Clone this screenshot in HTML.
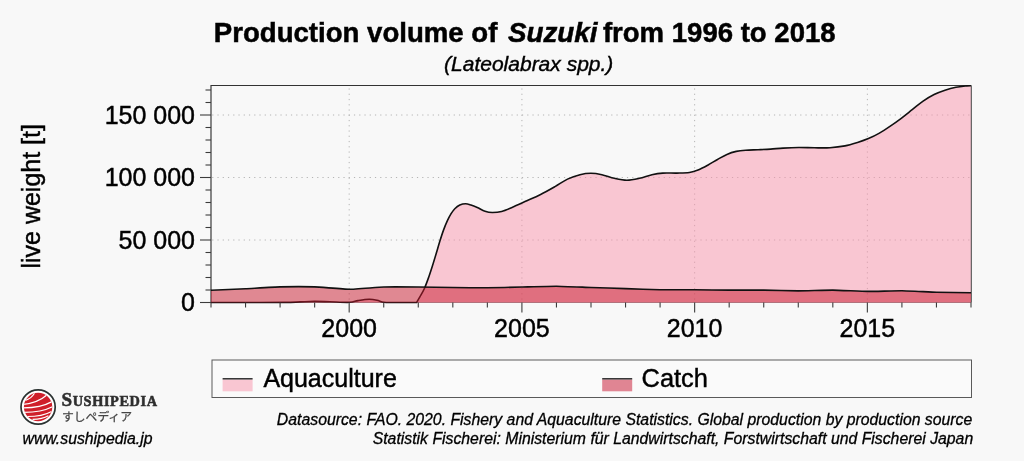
<!DOCTYPE html>
<html lang="en"><head><meta charset="utf-8"><title>Production volume of Suzuki from 1996 to 2018</title>
<style>
html,body{margin:0;padding:0;background:#f8f8f8;}
body{width:1024px;height:461px;overflow:hidden;font-family:"Liberation Sans","Noto Sans CJK JP",sans-serif;}
svg{display:block}
svg text{font-family:"Liberation Sans","Noto Sans CJK JP",sans-serif;fill:#000}
.ax text{font-size:25px}
.it{font-style:italic}
.tt text{stroke:#000;stroke-width:.5px}
.ax text,.lg{stroke:#000;stroke-width:.45px}
.sm{stroke:#000;stroke-width:.3px}
</style></head><body>
<svg width="1024" height="461" viewBox="0 0 1024 461">
<rect width="1024" height="461" fill="#f8f8f8"/>
<defs><clipPath id="disc"><circle cx="38.1" cy="407" r="14.2"/></clipPath></defs>
<!-- title -->
<g font-weight="bold" class="tt"><text x="213.8" y="42" font-size="27.6">Production volume of</text>
<text x="507.9" y="42" font-size="27.8" font-style="italic">Suzuki</text>
<text x="602.9" y="42" font-size="27.55">from 1996 to 2018</text></g>
<text class="it sm" x="528.7" y="71.4" font-size="21" style="stroke-width:.4px" text-anchor="middle">(Lateolabrax spp.)</text>
<!-- frame -->
<path d="M211,302.5V85.5H971.3" fill="none" stroke="#333" stroke-width="1.15"/><line x1="211" x2="971.3" y1="302.5" y2="302.5" stroke="#909090" stroke-width="1"/>
<g stroke="#b4b4b4" stroke-width="1" stroke-dasharray="1.2 4.05"><line x1="349.18" x2="349.18" y1="88.45" y2="302"/><line x1="521.91" x2="521.91" y1="88.45" y2="302"/><line x1="694.64" x2="694.64" y1="88.45" y2="302"/><line x1="867.36" x2="867.36" y1="88.45" y2="302"/><line x1="212.2" x2="971" y1="240.00" y2="240.00"/><line x1="212.2" x2="971" y1="177.50" y2="177.50"/><line x1="212.2" x2="971" y1="115.00" y2="115.00"/></g>
<!-- areas -->
<path d="M211.00,302.50C217.50,302.50 237.67,302.52 250.00,302.50C262.33,302.48 276.67,302.50 285.00,302.40C293.33,302.30 295.07,302.07 300.00,301.90C304.93,301.73 309.60,301.42 314.60,301.40C319.60,301.38 324.20,301.65 330.00,301.80C335.80,301.95 344.73,302.50 349.40,302.30C354.07,302.10 354.73,301.10 358.00,300.60C361.27,300.10 365.83,299.37 369.00,299.30C372.17,299.23 374.50,299.70 377.00,300.20C379.50,300.70 381.00,301.92 384.00,302.30C387.00,302.68 390.67,302.47 395.00,302.50C399.33,302.53 406.42,302.50 410.00,302.50C413.58,302.50 415.42,302.50 416.50,302.50C417.08,301.53 418.68,299.03 420.00,296.70C421.32,294.37 422.95,291.75 424.40,288.50C425.85,285.25 427.37,280.95 428.70,277.20C430.03,273.45 431.15,269.93 432.40,266.00C433.65,262.07 434.95,257.75 436.20,253.60C437.45,249.45 438.67,245.05 439.90,241.10C441.13,237.15 442.35,233.30 443.60,229.90C444.85,226.50 446.15,223.40 447.40,220.70C448.65,218.00 449.87,215.70 451.10,213.70C452.33,211.70 453.35,210.15 454.80,208.70C456.25,207.25 458.00,205.83 459.80,205.00C461.60,204.17 463.73,203.70 465.60,203.70C467.47,203.70 469.05,204.37 471.00,205.00C472.95,205.63 474.97,206.47 477.30,207.50C479.63,208.53 482.52,210.37 485.00,211.20C487.48,212.03 489.43,212.47 492.20,212.50C494.97,212.53 498.22,212.28 501.60,211.40C504.98,210.52 508.60,208.83 512.50,207.20C516.40,205.57 520.32,203.72 525.00,201.60C529.68,199.48 535.60,197.00 540.60,194.50C545.60,192.00 550.52,189.17 555.00,186.60C559.48,184.03 563.33,181.08 567.50,179.10C571.67,177.12 576.10,175.67 580.00,174.70C583.90,173.73 587.25,173.30 590.90,173.30C594.55,173.30 597.98,173.87 601.90,174.70C605.82,175.53 610.23,177.38 614.40,178.30C618.57,179.22 622.73,180.20 626.90,180.20C631.07,180.20 635.23,179.22 639.40,178.30C643.57,177.38 648.00,175.57 651.90,174.70C655.80,173.83 658.63,173.37 662.80,173.10C666.97,172.83 672.47,173.20 676.90,173.10C681.33,173.00 685.76,173.07 689.40,172.50C693.04,171.93 695.63,170.95 698.75,169.70C701.87,168.45 704.98,166.70 708.10,165.00C711.23,163.30 714.37,161.27 717.50,159.50C720.63,157.73 723.77,155.75 726.90,154.40C730.02,153.05 733.13,152.10 736.25,151.40C739.37,150.70 741.96,150.48 745.60,150.20C749.24,149.92 753.93,149.88 758.10,149.70C762.27,149.52 766.43,149.37 770.60,149.10C774.77,148.83 778.41,148.37 783.10,148.10C787.79,147.83 793.53,147.55 798.75,147.50C803.97,147.45 809.19,147.77 814.40,147.80C819.61,147.83 824.90,148.02 830.00,147.70C835.10,147.38 840.42,146.77 845.00,145.90C849.58,145.03 853.60,143.72 857.50,142.50C861.40,141.28 864.75,140.17 868.40,138.60C872.05,137.03 875.75,135.18 879.40,133.10C883.05,131.02 886.66,128.57 890.30,126.10C893.94,123.63 897.60,121.03 901.25,118.30C904.90,115.57 908.56,112.57 912.20,109.70C915.84,106.83 919.45,103.63 923.10,101.10C926.75,98.57 930.45,96.32 934.10,94.50C937.75,92.68 941.37,91.40 945.00,90.20C948.63,89.00 952.25,88.02 955.90,87.30C959.55,86.58 964.38,86.17 966.90,85.90C969.42,85.63 970.32,85.73 971.00,85.70L971,302.5L211,302.5Z" fill="#fa94ac" fill-opacity="0.5"/>
<path d="M211.00,302.50C217.50,302.50 237.67,302.52 250.00,302.50C262.33,302.48 276.67,302.50 285.00,302.40C293.33,302.30 295.07,302.07 300.00,301.90C304.93,301.73 309.60,301.42 314.60,301.40C319.60,301.38 324.20,301.65 330.00,301.80C335.80,301.95 344.73,302.50 349.40,302.30C354.07,302.10 354.73,301.10 358.00,300.60C361.27,300.10 365.83,299.37 369.00,299.30C372.17,299.23 374.50,299.70 377.00,300.20C379.50,300.70 381.00,301.92 384.00,302.30C387.00,302.68 390.67,302.47 395.00,302.50C399.33,302.53 406.42,302.50 410.00,302.50C413.58,302.50 415.42,302.50 416.50,302.50C417.08,301.53 418.68,299.03 420.00,296.70C421.32,294.37 422.95,291.75 424.40,288.50C425.85,285.25 427.37,280.95 428.70,277.20C430.03,273.45 431.15,269.93 432.40,266.00C433.65,262.07 434.95,257.75 436.20,253.60C437.45,249.45 438.67,245.05 439.90,241.10C441.13,237.15 442.35,233.30 443.60,229.90C444.85,226.50 446.15,223.40 447.40,220.70C448.65,218.00 449.87,215.70 451.10,213.70C452.33,211.70 453.35,210.15 454.80,208.70C456.25,207.25 458.00,205.83 459.80,205.00C461.60,204.17 463.73,203.70 465.60,203.70C467.47,203.70 469.05,204.37 471.00,205.00C472.95,205.63 474.97,206.47 477.30,207.50C479.63,208.53 482.52,210.37 485.00,211.20C487.48,212.03 489.43,212.47 492.20,212.50C494.97,212.53 498.22,212.28 501.60,211.40C504.98,210.52 508.60,208.83 512.50,207.20C516.40,205.57 520.32,203.72 525.00,201.60C529.68,199.48 535.60,197.00 540.60,194.50C545.60,192.00 550.52,189.17 555.00,186.60C559.48,184.03 563.33,181.08 567.50,179.10C571.67,177.12 576.10,175.67 580.00,174.70C583.90,173.73 587.25,173.30 590.90,173.30C594.55,173.30 597.98,173.87 601.90,174.70C605.82,175.53 610.23,177.38 614.40,178.30C618.57,179.22 622.73,180.20 626.90,180.20C631.07,180.20 635.23,179.22 639.40,178.30C643.57,177.38 648.00,175.57 651.90,174.70C655.80,173.83 658.63,173.37 662.80,173.10C666.97,172.83 672.47,173.20 676.90,173.10C681.33,173.00 685.76,173.07 689.40,172.50C693.04,171.93 695.63,170.95 698.75,169.70C701.87,168.45 704.98,166.70 708.10,165.00C711.23,163.30 714.37,161.27 717.50,159.50C720.63,157.73 723.77,155.75 726.90,154.40C730.02,153.05 733.13,152.10 736.25,151.40C739.37,150.70 741.96,150.48 745.60,150.20C749.24,149.92 753.93,149.88 758.10,149.70C762.27,149.52 766.43,149.37 770.60,149.10C774.77,148.83 778.41,148.37 783.10,148.10C787.79,147.83 793.53,147.55 798.75,147.50C803.97,147.45 809.19,147.77 814.40,147.80C819.61,147.83 824.90,148.02 830.00,147.70C835.10,147.38 840.42,146.77 845.00,145.90C849.58,145.03 853.60,143.72 857.50,142.50C861.40,141.28 864.75,140.17 868.40,138.60C872.05,137.03 875.75,135.18 879.40,133.10C883.05,131.02 886.66,128.57 890.30,126.10C893.94,123.63 897.60,121.03 901.25,118.30C904.90,115.57 908.56,112.57 912.20,109.70C915.84,106.83 919.45,103.63 923.10,101.10C926.75,98.57 930.45,96.32 934.10,94.50C937.75,92.68 941.37,91.40 945.00,90.20C948.63,89.00 952.25,88.02 955.90,87.30C959.55,86.58 964.38,86.17 966.90,85.90C969.42,85.63 970.32,85.73 971.00,85.70" fill="none" stroke="#111" stroke-width="1.6" stroke-linejoin="round"/>
<line x1="971.3" x2="971.3" y1="85.5" y2="302.5" stroke="#444" stroke-width="1"/>
<path d="M211.00,290.30C213.30,290.20 240.94,288.98 245.55,288.75C250.15,288.52 275.48,287.02 280.09,286.90C284.70,286.78 310.03,286.74 314.64,286.90C319.24,287.06 344.58,289.29 349.18,289.30C353.79,289.31 379.12,287.15 383.73,287.00C388.33,286.85 413.67,286.97 418.27,287.00C422.88,287.03 448.21,287.45 452.82,287.50C457.42,287.55 482.76,287.83 487.36,287.80C491.97,287.77 517.30,287.11 521.91,287.00C526.52,286.89 551.85,286.17 556.45,286.20C561.06,286.23 586.39,287.34 591.00,287.50C595.61,287.66 620.94,288.45 625.55,288.60C630.15,288.75 655.48,289.72 660.09,289.80C664.70,289.88 690.03,289.78 694.64,289.80C699.24,289.82 724.58,290.08 729.18,290.10C733.79,290.12 759.12,290.05 763.73,290.10C768.33,290.15 793.67,290.90 798.27,290.90C802.88,290.90 828.21,290.07 832.82,290.10C837.42,290.13 862.76,291.36 867.36,291.40C871.97,291.44 897.30,290.70 901.91,290.75C906.52,290.80 931.85,292.07 936.45,292.20C941.06,292.33 968.70,292.71 971.00,292.75L971,302.5L211,302.5Z" fill="#c7182b" fill-opacity="0.5"/>
<path d="M211.00,290.30C213.30,290.20 240.94,288.98 245.55,288.75C250.15,288.52 275.48,287.02 280.09,286.90C284.70,286.78 310.03,286.74 314.64,286.90C319.24,287.06 344.58,289.29 349.18,289.30C353.79,289.31 379.12,287.15 383.73,287.00C388.33,286.85 413.67,286.97 418.27,287.00C422.88,287.03 448.21,287.45 452.82,287.50C457.42,287.55 482.76,287.83 487.36,287.80C491.97,287.77 517.30,287.11 521.91,287.00C526.52,286.89 551.85,286.17 556.45,286.20C561.06,286.23 586.39,287.34 591.00,287.50C595.61,287.66 620.94,288.45 625.55,288.60C630.15,288.75 655.48,289.72 660.09,289.80C664.70,289.88 690.03,289.78 694.64,289.80C699.24,289.82 724.58,290.08 729.18,290.10C733.79,290.12 759.12,290.05 763.73,290.10C768.33,290.15 793.67,290.90 798.27,290.90C802.88,290.90 828.21,290.07 832.82,290.10C837.42,290.13 862.76,291.36 867.36,291.40C871.97,291.44 897.30,290.70 901.91,290.75C906.52,290.80 931.85,292.07 936.45,292.20C941.06,292.33 968.70,292.71 971.00,292.75" fill="none" stroke="#111" stroke-width="1.6" stroke-linejoin="round"/>
<g stroke="#3c3c3c" stroke-width="1.1"><line x1="211.00" x2="211.00" y1="302.5" y2="307.5"/><line x1="245.55" x2="245.55" y1="302.5" y2="307.5"/><line x1="280.09" x2="280.09" y1="302.5" y2="307.5"/><line x1="314.64" x2="314.64" y1="302.5" y2="307.5"/><line x1="349.18" x2="349.18" y1="302.5" y2="312.5"/><line x1="383.73" x2="383.73" y1="302.5" y2="307.5"/><line x1="418.27" x2="418.27" y1="302.5" y2="307.5"/><line x1="452.82" x2="452.82" y1="302.5" y2="307.5"/><line x1="487.36" x2="487.36" y1="302.5" y2="307.5"/><line x1="521.91" x2="521.91" y1="302.5" y2="312.5"/><line x1="556.45" x2="556.45" y1="302.5" y2="307.5"/><line x1="591.00" x2="591.00" y1="302.5" y2="307.5"/><line x1="625.55" x2="625.55" y1="302.5" y2="307.5"/><line x1="660.09" x2="660.09" y1="302.5" y2="307.5"/><line x1="694.64" x2="694.64" y1="302.5" y2="312.5"/><line x1="729.18" x2="729.18" y1="302.5" y2="307.5"/><line x1="763.73" x2="763.73" y1="302.5" y2="307.5"/><line x1="798.27" x2="798.27" y1="302.5" y2="307.5"/><line x1="832.82" x2="832.82" y1="302.5" y2="307.5"/><line x1="867.36" x2="867.36" y1="302.5" y2="312.5"/><line x1="901.91" x2="901.91" y1="302.5" y2="307.5"/><line x1="936.45" x2="936.45" y1="302.5" y2="307.5"/><line x1="971.00" x2="971.00" y1="302.5" y2="307.5"/><line x1="200.0" x2="211" y1="302.50" y2="302.50"/><line x1="205.5" x2="211" y1="290.00" y2="290.00"/><line x1="205.5" x2="211" y1="277.50" y2="277.50"/><line x1="205.5" x2="211" y1="265.00" y2="265.00"/><line x1="205.5" x2="211" y1="252.50" y2="252.50"/><line x1="200.0" x2="211" y1="240.00" y2="240.00"/><line x1="205.5" x2="211" y1="227.50" y2="227.50"/><line x1="205.5" x2="211" y1="215.00" y2="215.00"/><line x1="205.5" x2="211" y1="202.50" y2="202.50"/><line x1="205.5" x2="211" y1="190.00" y2="190.00"/><line x1="200.0" x2="211" y1="177.50" y2="177.50"/><line x1="205.5" x2="211" y1="165.00" y2="165.00"/><line x1="205.5" x2="211" y1="152.50" y2="152.50"/><line x1="205.5" x2="211" y1="140.00" y2="140.00"/><line x1="205.5" x2="211" y1="127.50" y2="127.50"/><line x1="200.0" x2="211" y1="115.00" y2="115.00"/><line x1="205.5" x2="211" y1="102.50" y2="102.50"/><line x1="205.5" x2="211" y1="90.00" y2="90.00"/></g>
<g class="ax"><text x="349.18" y="336.6" text-anchor="middle">2000</text><text x="521.91" y="336.6" text-anchor="middle">2005</text><text x="694.64" y="336.6" text-anchor="middle">2010</text><text x="867.36" y="336.6" text-anchor="middle">2015</text><text x="195" y="311.40" text-anchor="end">0</text><text x="195" y="248.90" text-anchor="end">50 000</text><text x="195" y="186.40" text-anchor="end">100 000</text><text x="195" y="123.90" text-anchor="end">150 000</text>
<text transform="translate(39.8,196.3) rotate(-90)" text-anchor="middle">live weight [t]</text>
</g>
<!-- legend -->
<rect x="212" y="360" width="759.5" height="37.5" fill="#fafafa" stroke="#5a5a5a" stroke-width="1"/>
<rect x="222.6" y="379.5" width="30" height="11.8" fill="#f9c6d2"/>
<line x1="222.6" x2="252.6" y1="378.8" y2="378.8" stroke="#222" stroke-width="1.4"/>
<text class="lg" x="263.4" y="387.3" font-size="25">Aquaculture</text>
<rect x="602.2" y="379.5" width="30" height="11.8" fill="#e08593"/>
<line x1="602.2" x2="632.2" y1="378.8" y2="378.8" stroke="#222" stroke-width="1.4"/>
<text class="lg" x="641.6" y="387.3" font-size="25.4">Catch</text>
<!-- footer -->
<text class="it sm" x="972.3" y="425" font-size="15.8" text-anchor="end">Datasource: FAO. 2020. Fishery and Aquaculture Statistics. Global production by production source</text>
<text class="it sm" x="973.2" y="444.3" font-size="15.8" text-anchor="end">Statistik Fischerei: Ministerium für Landwirtschaft, Forstwirtschaft und Fischerei Japan</text>
<text class="it sm" x="22.5" y="443.6" font-size="15.8">www.sushipedia.jp</text>
<!-- logo -->
<circle cx="38.1" cy="407" r="17.1" fill="#fff" stroke="#2b3231" stroke-width="1.7"/>
<circle cx="38.1" cy="407" r="14.2" fill="#cf1f2a"/>
<g clip-path="url(#disc)" fill="none" stroke="#fff" stroke-width="1.2">
<path d="M25.3,400.3 Q31,398.8 34.5,393.2"/>
<path d="M23.5,404.3 Q37.9,402.9 47.8,394.2"/>
<path d="M23.5,407.9 Q40.6,407.9 52,401.6"/>
<path d="M24,412.4 Q41.5,412.4 52.5,406.8"/>
<path d="M27,416.5 Q42.4,416.5 51.6,411.4"/>
<path d="M32.5,419.4 Q42.4,419 48.4,415.7"/>
</g>
<text x="61.5" y="405.6" font-family="Liberation Serif, serif" font-weight="bold" fill="#2e2e2e" style="font-family:'Liberation Serif',serif;fill:#2e2e2e;stroke:#2e2e2e;stroke-width:.55px" textLength="95.5" lengthAdjust="spacing"><tspan font-size="19">S</tspan><tspan font-size="14.3">USHIPEDIA</tspan></text>
<text x="62" y="420.6" font-size="11.8" style="fill:#444;stroke:#444;stroke-width:.25px">すしペディア</text>
</svg>
</body></html>
